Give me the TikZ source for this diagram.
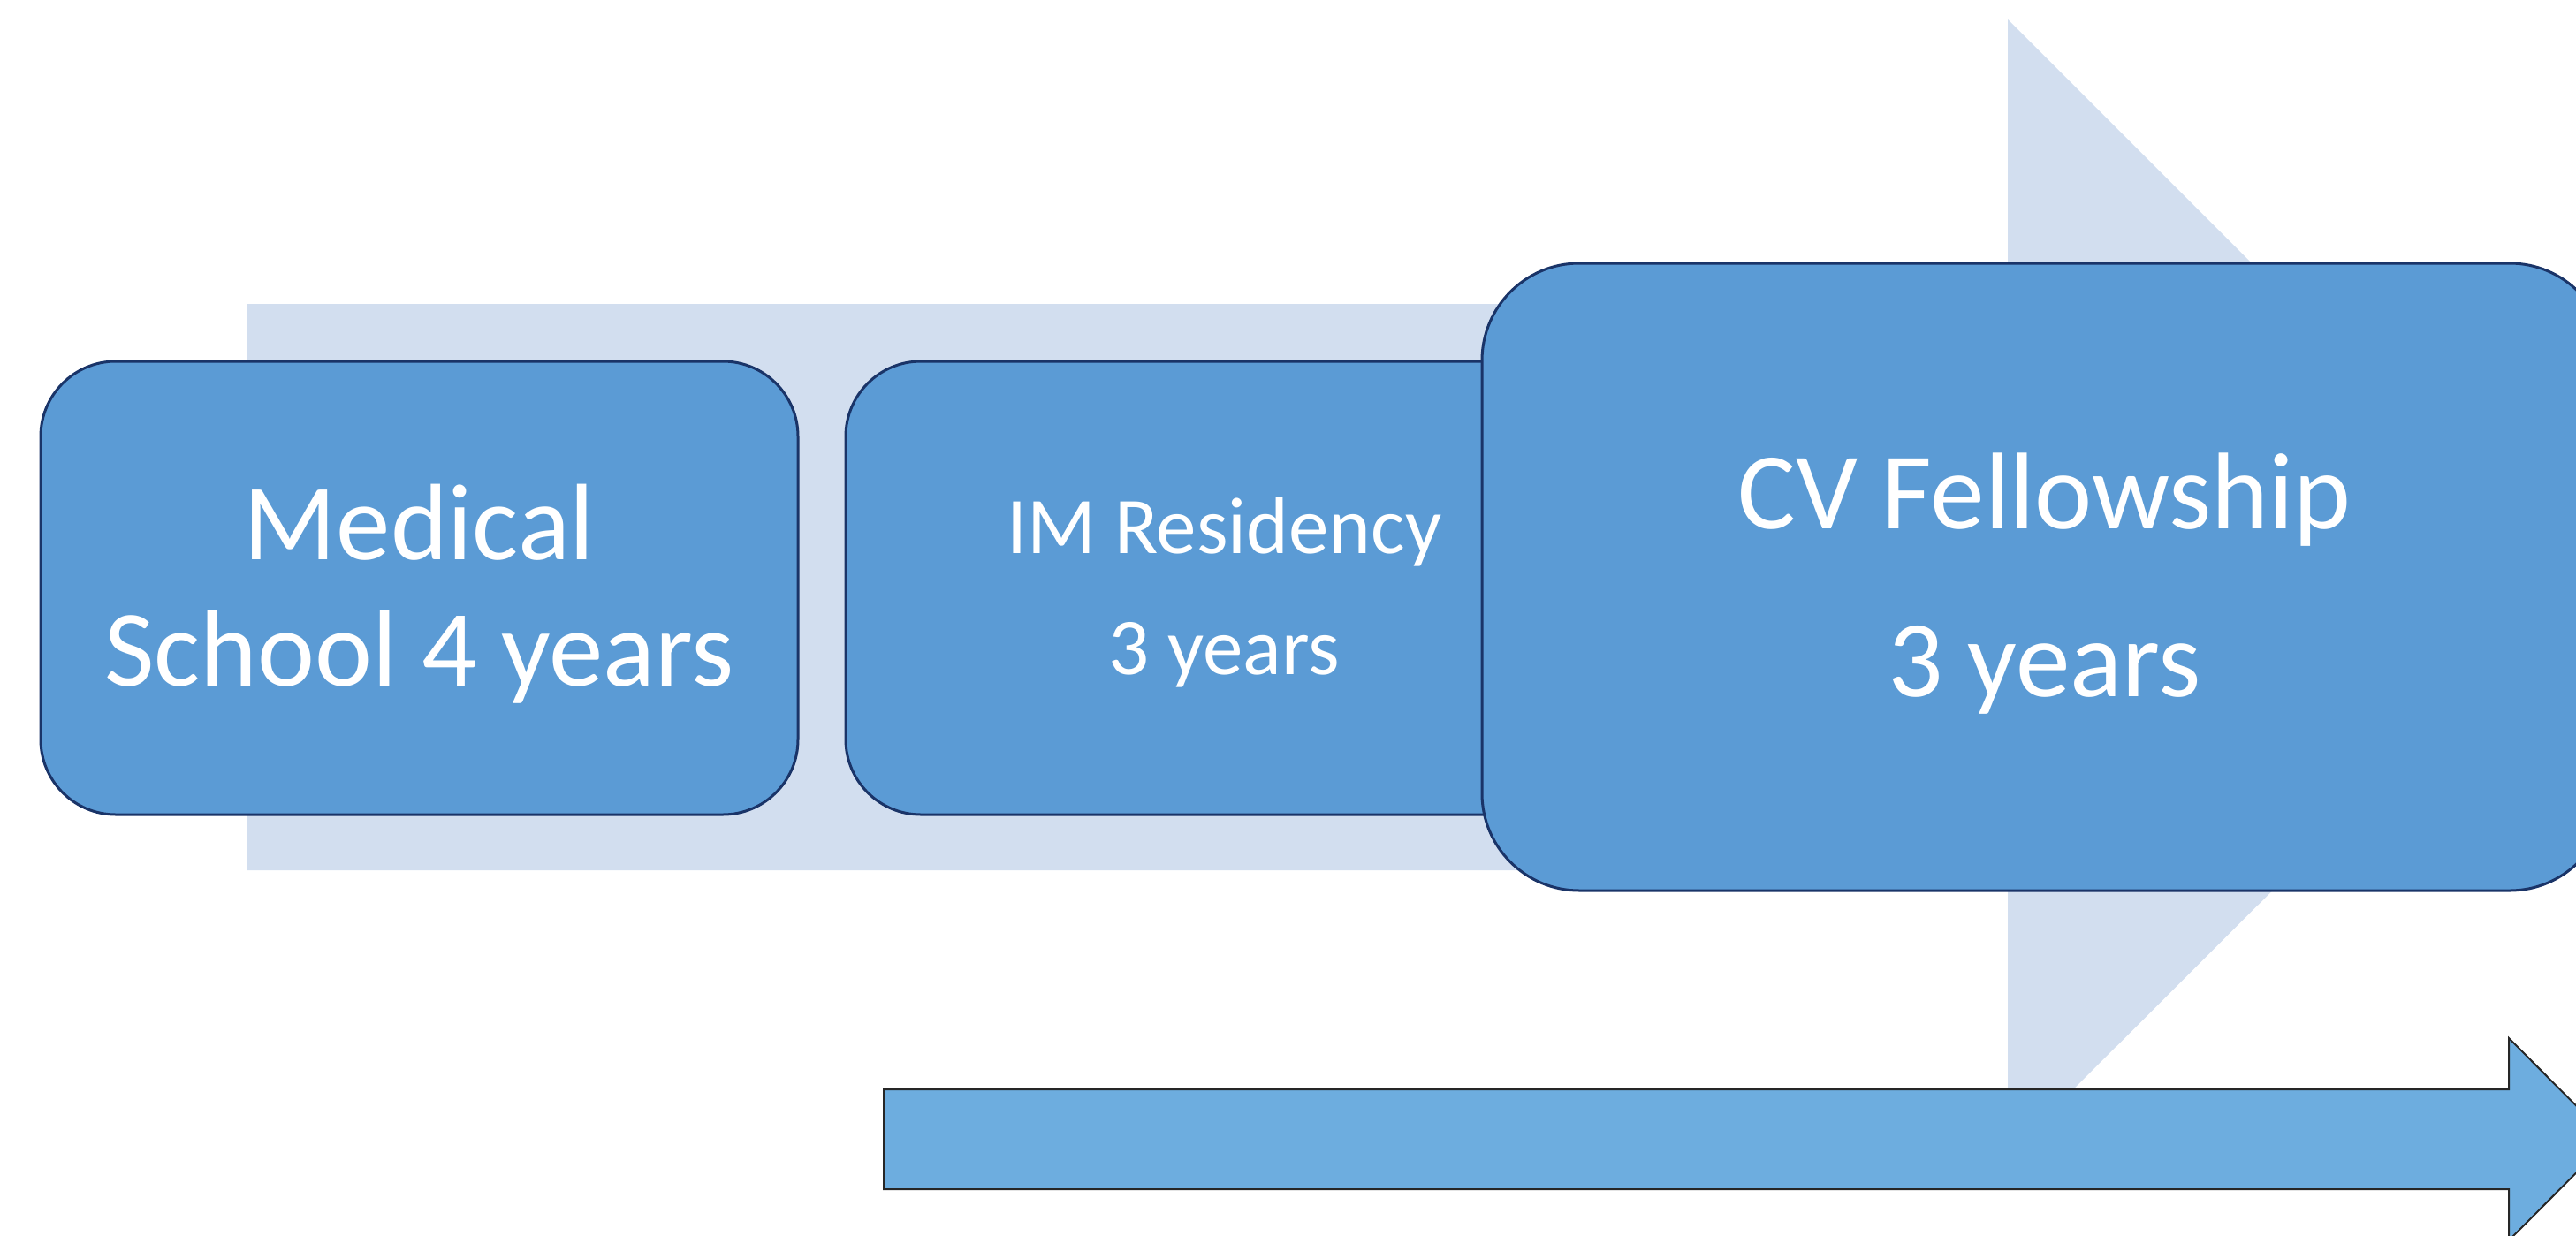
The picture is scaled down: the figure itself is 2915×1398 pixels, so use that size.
\documentclass[tikz,border=0pt]{standalone}
\usepackage{fontspec}
\setmainfont{Carlito}
\usetikzlibrary{positioning}
\definecolor{stagefill}{HTML}{5B9BD5}
\definecolor{stageline}{HTML}{1A3468}
\definecolor{trackfill}{HTML}{D2DEEF}
\definecolor{timefill}{HTML}{6DADDF}
\definecolor{timeline}{HTML}{262626}
\begin{document}
\begin{tikzpicture}[x=0.5pt,y=-0.5pt,
    stagebox/.style={draw=stageline, line width=1.5pt, fill=stagefill,
      rounded corners=42.5pt, minimum width=428.5pt, minimum height=256.5pt, inner sep=0pt},
    stagetext/.style={text=white, align=center, inner sep=0pt}]
  \clip (0,0) rectangle (2915,1398);
  % wide pale arrow behind the stages
  \fill[trackfill] (279,344) -- (2272,344) -- (2272,22) -- (2915,665)
    -- (2272,1307) -- (2272,985) -- (279,985) -- cycle;
  % time arrow
  \draw[timeline, line width=1pt, fill=timefill] (1000,1233) -- (2839,1233) -- (2839,1175)
    -- (2953,1289.5) -- (2839,1404) -- (2839,1346) -- (1000,1346) -- cycle;
  % stages
  \node[stagebox] (med) at (474.5,665.5) {};
  \node[stagebox, right=25.5pt of med] (res) {};
  \node[stagebox, minimum width=636.5pt, minimum height=355pt, rounded corners=55pt]
    (fel) at (2313.5,653) {};
  \node[stagetext, font=\fontsize{61.5}{71.5}\selectfont, yshift=-3.5pt] (medtxt) at (med.center)
    {Medical\\School 4 years};
  \node[stagetext, font=\fontsize{45.5}{68.5}\selectfont, yshift=-2.8pt] (restxt) at (res.center)
    {IM Residency\\3 years};
  \node[stagetext, font=\fontsize{61.7}{95}\selectfont, yshift=-4pt] (feltxt) at (fel.center)
    {CV Fellowship\\3 years};
\end{tikzpicture}
\end{document}
